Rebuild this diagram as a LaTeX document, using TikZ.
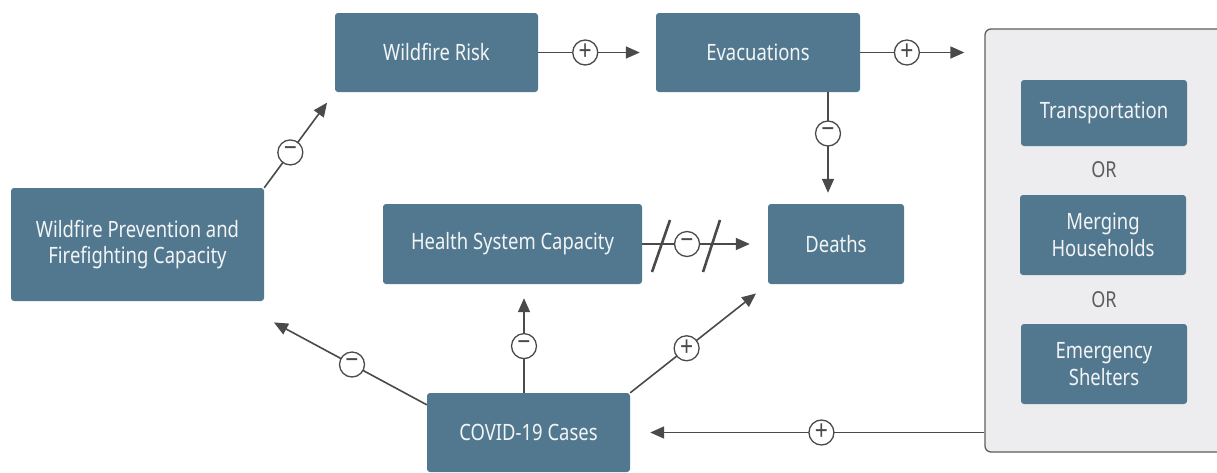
\documentclass[tikz,border=0pt]{standalone}
\usepackage{fontspec}
\setmainfont{Noto Sans}[FakeStretch=0.82]
\usetikzlibrary{arrows.meta,calc}
\definecolor{boxblue}{HTML}{52788F}
\definecolor{boxtext}{HTML}{F2F4F5}
\definecolor{linegray}{HTML}{4A4A4A}
\definecolor{panelfill}{HTML}{EDEDEF}
\definecolor{panelline}{HTML}{5E5E5E}
\begin{document}
\begin{tikzpicture}[x=1pt,y=-1pt,
  box/.style={draw=none,fill=boxblue,rounded corners=3pt,text=boxtext,align=center,
    font=\fontsize{22.5}{26.5}\selectfont,inner sep=0pt},
  ortext/.style={text=linegray!90,font=\fontsize{22}{24}\selectfont,inner sep=0pt},
  arr/.style={draw=linegray,line width=1.6pt,-{Triangle[length=14pt,width=12pt]}},
  sign/.style={circle,draw=linegray,line width=1.3pt,fill=white,minimum size=25pt,inner sep=0pt,
    font=\fontsize{28}{28}\selectfont,text=linegray},
  slash/.style={draw=linegray,line width=2.6pt}]
\useasboundingbox (0,0) rectangle (1217,472);
\fill[white] (0,0) rectangle (1217,472);
% right panel
\node[draw=panelline,fill=panelfill,line width=1.3pt,rounded corners=6pt,minimum width=250pt,minimum height=423pt,inner sep=0pt] (panel) at (1110,240.5) {};
% nodes
\node[box,minimum width=203pt,minimum height=79pt] (risk) at (436.5,52.5) {Wildfire Risk};
\node[box,minimum width=204pt,minimum height=79pt] (evac) at (758,52.5) {Evacuations};
\node[box,minimum width=253pt,minimum height=113pt] (prev) at (137.5,244.5) {Wildfire Prevention and\\Firefighting Capacity};
\node[box,minimum width=259pt,minimum height=80pt] (health) at (512.5,244) {Health System Capacity};
\node[box,minimum width=136pt,minimum height=80pt] (deaths) at (836,244) {Deaths};
\node[box,minimum width=203pt,minimum height=79pt] (covid) at (528.5,432.5) {COVID-19 Cases};
\node[box,minimum width=166pt,minimum height=66pt] (trans) at (1104,113) {Transportation};
\node[ortext] (or1) at (1104,170) {OR};
\node[box,minimum width=166pt,minimum height=80pt] (merge) at (1103,235) {Merging\\Households};
\node[ortext] (or2) at (1104,300) {OR};
\node[box,minimum width=166pt,minimum height=80pt] (shelter) at (1104,364) {Emergency\\Shelters};
% helper coordinates
\coordinate (d3) at ($(deaths.north)+(-8,0)$);
\coordinate (h6) at ($(health.south)+(11.5,0)$);
\coordinate (c7) at ($(covid.north west)+(0,12)$);
\coordinate (p7) at ($(prev.south east)+(0,16)$);
% connectors
\draw[arr,shorten >=16pt] (risk.east) -- node[sign,pos=0.40]{+} (evac.west);
\draw[arr,shorten >=20pt] (evac.east) -- node[sign,pos=0.376]{+} (panel.west |- evac.east);
\draw[arr,shorten >=11pt] (evac.south -| d3) -- node[sign,pos=0.37]{−} (d3);
\draw[arr,shorten >=18pt] (health.east) -- node[sign,pos=0.357]{−} (deaths.west);
\draw[slash] (652,272) -- (670,220);
\draw[slash] (703,272) -- (720,220);
\draw[arr,shorten >=15pt] (covid.north east) -- node[sign,pos=0.41]{+} (deaths.south west);
\draw[arr,shorten >=14pt] (covid.north -| h6) -- node[sign,pos=0.43]{−} (h6);
\draw[arr,shorten >=11pt] (c7) -- node[sign,pos=0.46]{−} (p7);
\draw[arr,shorten >=13pt] (prev.north east) -- node[sign,pos=0.37]{−} (risk.south west);
\draw[arr,shorten >=20pt] (panel.west |- covid.east) -- node[sign,pos=0.46]{+} (covid.east);
\end{tikzpicture}
\end{document}
